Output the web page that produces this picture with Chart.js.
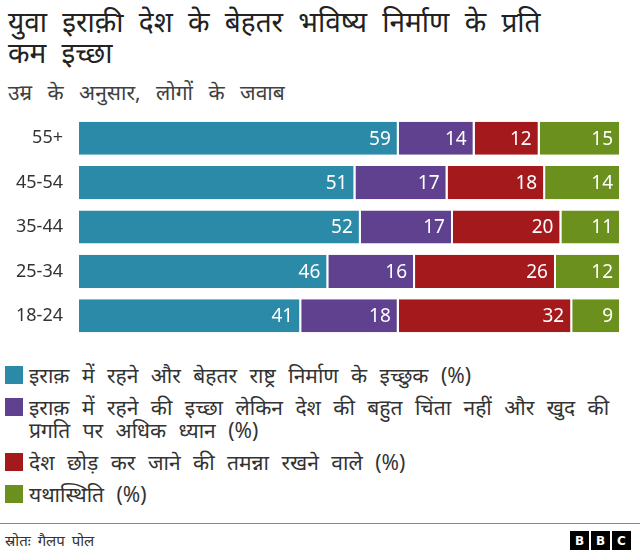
<!DOCTYPE html>
<html>
<head>
<meta charset="utf-8">
<script src="https://cdn.jsdelivr.net/npm/chart.js@4"></script>
<style>
  body { margin: 0; width: 640px; height: 554px; background: #fff; position: relative; overflow: hidden;
         font-family: "Noto Sans", "Open Sans", sans-serif; color: #222; }
  #title { position: absolute; left: 8px; top: 6px; width: 575px; font-size: 28px; line-height: 31px;
           word-spacing: 8px; color: #222; }
  #subtitle { position: absolute; left: 8px; top: 79px; font-size: 21px; line-height: 26px;
              word-spacing: 10px; color: #404040; }
  #chartBox { position: absolute; left: 0; top: 116px; width: 640px; height: 222px; }
  #legend { position: absolute; left: 5px; top: 364px; width: 635px; font-size: 21px; color: #333;
            line-height: 23px; word-spacing: 7px; }
  .item { display: flex; align-items: flex-start; margin-bottom: 9px; }
  .sw { width: 18px; height: 18px; flex: none; margin: 2px 6px 0 0; }
  #rule { position: absolute; left: 0; top: 523px; width: 640px; height: 1px; background: #888; }
  #source { position: absolute; left: 5px; top: 530px; font-size: 15px; color: #333; word-spacing: 3px; }
  #bbc { position: absolute; right: 9px; top: 531px; display: flex; gap: 2px; }
  #bbc span { width: 19px; height: 19px; background: #000; color: #fff; font: bold 12px "DejaVu Sans", sans-serif;
              display: flex; align-items: center; justify-content: center; }
</style>
</head>
<body>
<div id="title">युवा इराक़ी देश के बेहतर भविष्य निर्माण के प्रति कम इच्छा</div>
<div id="subtitle">उम्र के अनुसार, लोगों के जवाब</div>
<div id="chartBox"><canvas id="chart"></canvas></div>
<div id="legend"></div>
<div id="rule"></div>
<div id="source">स्रोतः गैलप पोल</div>
<div id="bbc"><span>B</span><span>B</span><span>C</span></div>
<script>
const ageGroups = ['55+', '45-54', '35-44', '25-34', '18-24'];
const seriesNames = [
  'इराक़ में रहने और बेहतर राष्ट्र निर्माण के इच्छुक (%)',
  'इराक़ में रहने की इच्छा लेकिन देश की बहुत चिंता नहीं और खुद की प्रगति पर अधिक ध्यान (%)',
  'देश छोड़ कर जाने की तमन्ना रखने वाले (%)',
  'यथास्थिति (%)'
];
const stayBuild = [59, 51, 52, 46, 41];
const stayOwn = [14, 17, 17, 16, 18];
const leave = [12, 18, 20, 26, 32];
const statusQuo = [15, 14, 11, 12, 9];
const colors = ['#2a8aa8', '#5f4190', '#a3191c', '#6b901d'];

const allSeries = [stayBuild, stayOwn, leave, statusQuo];

// legend
const legend = document.getElementById('legend');
seriesNames.forEach((name, i) => {
  const row = document.createElement('div');
  row.className = 'item';
  row.innerHTML = `<div class="sw" style="background:${colors[i]}"></div><div>${name}</div>`;
  legend.appendChild(row);
});

// white value labels at the right end of each segment
const valueLabels = {
  id: 'valueLabels',
  afterDatasetsDraw(chart) {
    const ctx = chart.ctx;
    ctx.save();
    ctx.fillStyle = '#fff';
    ctx.font = '19px "Noto Sans", sans-serif';
    ctx.textAlign = 'right';
    ctx.textBaseline = 'middle';
    chart.data.datasets.forEach((ds, di) => {
      chart.getDatasetMeta(di).data.forEach((bar, i) => {
        ctx.fillText(ds.data[i], bar.x - 8, bar.y + 1);
      });
    });
    ctx.restore();
  }
};

new Chart(document.getElementById('chart'), {
  type: 'bar',
  data: {
    labels: ageGroups,
    datasets: allSeries.map((vals, i) => ({
      label: seriesNames[i],
      data: vals,
      backgroundColor: colors[i],
      borderColor: '#fff',
      borderWidth: { right: 2, left: 0, top: 0, bottom: 0 },
      barPercentage: 1,
      categoryPercentage: 0.745
    }))
  },
  options: {
    indexAxis: 'y',
    responsive: true,
    maintainAspectRatio: false,
    animation: false,
    layout: { padding: { right: 19, top: 0, bottom: 0, left: 0 } },
    plugins: { legend: { display: false }, tooltip: { enabled: false } },
    scales: {
      x: { stacked: true, min: 0, max: 100, display: false },
      y: {
        stacked: true,
        grid: { display: false },
        border: { display: false },
        ticks: { color: '#333', font: { size: 18, family: '"Noto Sans", sans-serif' }, padding: 8 },
        afterFit(scale) {
          scale.width = 79;
          // labels sit at the band centres, no extra room needed above/below
          scale.paddingTop = 0;
          scale.paddingBottom = 0;
        }
      }
    }
  },
  plugins: [valueLabels]
});
</script>
</body>
</html>
